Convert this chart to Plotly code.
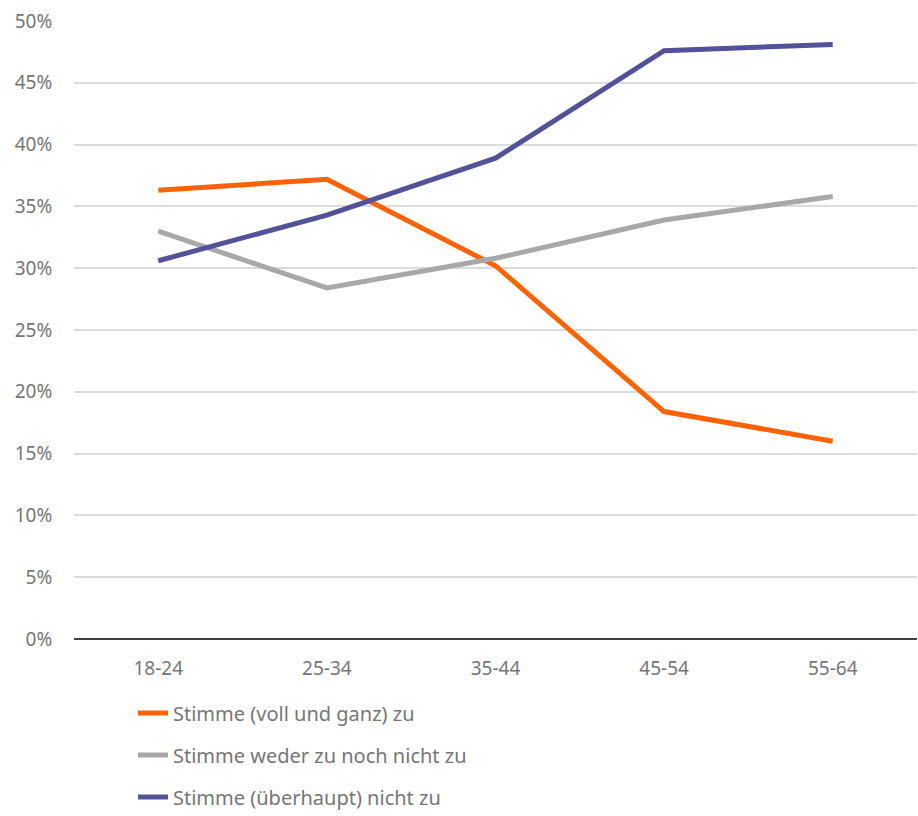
import plotly.graph_objects as go

categories = ["18-24", "25-34", "35-44", "45-54", "55-64"]
voll_zu = [36.3, 37.2, 30.2, 18.4, 16.0]
weder_noch = [33.0, 28.4, 30.8, 33.9, 35.8]
nicht_zu = [30.6, 34.3, 38.9, 47.6, 48.1]
series_names = ["Stimme (voll und ganz) zu", "Stimme weder zu noch nicht zu", "Stimme (überhaupt) nicht zu"]
colors = ["#FF6200", "#A8A8A8", "#525199"]
y_ticks = [0, 5, 10, 15, 20, 25, 30, 35, 40, 45, 50]
y_tick_labels = [f"{v}%" for v in y_ticks]

font_family = "Noto Sans, Lato, sans-serif"
text_color = "#767676"

fig = go.Figure()
for i, (name, vals) in enumerate(zip(series_names, [voll_zu, weder_noch, nicht_zu])):
    fig.add_trace(go.Scatter(
        x=categories, y=vals, name=name, mode="lines",
        line=dict(color=colors[i], width=5),
        legendgroup=f"g{i}",
    ))

fig.update_layout(
    width=918, height=816,
    margin=dict(l=74, r=1, t=21, b=177, autoexpand=False),
    paper_bgcolor="white", plot_bgcolor="white",
    font=dict(family=font_family, color=text_color, size=19),
    showlegend=True,
    legend=dict(
        orientation="v", x=0.07, xanchor="left", xref="paper",
        y=0.15, yanchor="top", yref="container",
        font=dict(size=20, color=text_color), tracegroupgap=13,
        traceorder="grouped", bgcolor="rgba(0,0,0,0)",
    ),
    xaxis=dict(
        type="category", range=[-0.5, 4.5],
        showgrid=False, showline=False, zeroline=False,
        ticks="outside", ticklen=12, tickcolor="rgba(0,0,0,0)",
        tickfont=dict(size=19, color=text_color),
    ),
    yaxis=dict(
        range=[0, 50], tickmode="array", tickvals=y_ticks, ticktext=y_tick_labels,
        showgrid=True, gridcolor="#DCDCDC", gridwidth=1.5,
        zeroline=True, zerolinecolor="#404040", zerolinewidth=2,
        showline=False, ticks="outside", ticklen=17, tickcolor="rgba(0,0,0,0)",
        tickfont=dict(size=19, color=text_color),
    ),
)

fig.write_html("out.html")
